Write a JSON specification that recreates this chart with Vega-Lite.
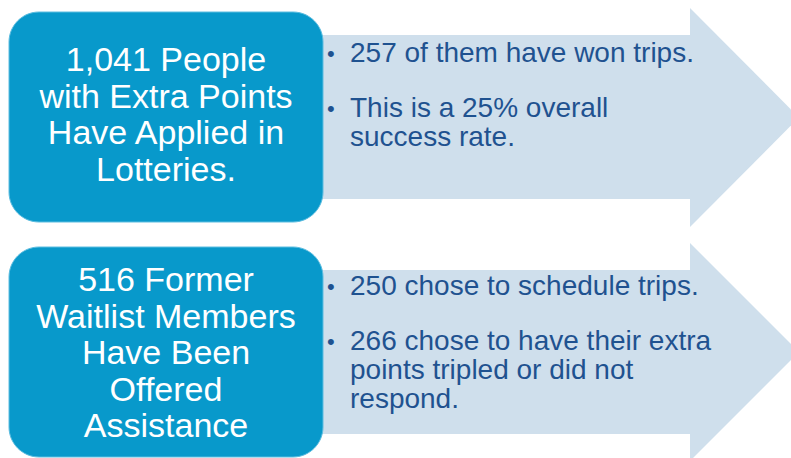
{
  "$schema": "https://vega.github.io/schema/vega-lite/v6.json",
  "width": 791,
  "height": 458,
  "autosize": {"type": "none"},
  "padding": 0,
  "background": "white",
  "config": {"view": {"stroke": null}},
  "datasets": {
    "shafts": [
      {"arrow": "top", "x1": 322, "x2": 694, "y1": 35, "y2": 199},
      {"arrow": "bottom", "x1": 322, "x2": 694, "y1": 270, "y2": 434}
    ],
    "heads": [
      {"arrow": "top", "x": 690, "ylo": 8, "yhi": 227},
      {"arrow": "top", "x": 799, "ylo": 117.5, "yhi": 117.5},
      {"arrow": "bottom", "x": 690, "ylo": 243, "yhi": 461},
      {"arrow": "bottom", "x": 799, "ylo": 352, "yhi": 352}
    ],
    "boxes": [
      {"box": "top", "x1": 9, "x2": 323, "y1": 12, "y2": 222},
      {"box": "bottom", "x1": 9, "x2": 323, "y1": 247, "y2": 457}
    ],
    "boxText": [
      {"x": 166, "y": 61, "label": "1,041 People\nwith Extra Points\nHave Applied in\nLotteries."},
      {"x": 166, "y": 281, "label": "516 Former\nWaitlist Members\nHave Been\nOffered\nAssistance"}
    ],
    "bullets": [
      {"x": 350, "y": 62, "label": "257 of them have won trips."},
      {"x": 350, "y": 116.5, "label": "This is a 25% overall\nsuccess rate."},
      {"x": 350, "y": 295, "label": "250 chose to schedule trips."},
      {"x": 350, "y": 350, "label": "266 chose to have their extra\npoints tripled or did not\nrespond."}
    ]
  },
  "layer": [
    {
      "data": {"name": "shafts"},
      "mark": {"type": "rect", "color": "#CFDFEC", "clip": true},
      "encoding": {
        "x": {"field": "x1", "type": "quantitative", "scale": {"domain": [0, 791]}, "axis": null},
        "x2": {"field": "x2"},
        "y": {"field": "y1", "type": "quantitative", "scale": {"domain": [0, 458], "reverse": true}, "axis": null},
        "y2": {"field": "y2"}
      }
    },
    {
      "data": {"name": "heads"},
      "mark": {"type": "area", "color": "#CFDFEC", "orient": "vertical", "clip": true},
      "encoding": {
        "x": {"field": "x", "type": "quantitative", "scale": {"domain": [0, 791]}, "axis": null},
        "y": {"field": "ylo", "type": "quantitative", "scale": {"domain": [0, 458], "reverse": true}, "axis": null},
        "y2": {"field": "yhi"},
        "detail": {"field": "arrow"}
      }
    },
    {
      "data": {"name": "boxes"},
      "mark": {"type": "rect", "color": "#0899CB", "cornerRadius": 30, "stroke": "#5CBDE0", "strokeWidth": 1},
      "encoding": {
        "x": {"field": "x1", "type": "quantitative", "scale": {"domain": [0, 791]}, "axis": null},
        "x2": {"field": "x2"},
        "y": {"field": "y1", "type": "quantitative", "scale": {"domain": [0, 458], "reverse": true}, "axis": null},
        "y2": {"field": "y2"}
      }
    },
    {
      "data": {"name": "boxText"},
      "mark": {"type": "text", "color": "white", "font": "Liberation Sans", "fontSize": 34, "lineHeight": 36.5, "align": "center", "baseline": "middle", "lineBreak": "\n"},
      "encoding": {
        "x": {"field": "x", "type": "quantitative", "scale": {"domain": [0, 791]}, "axis": null},
        "y": {"field": "y", "type": "quantitative", "scale": {"domain": [0, 458], "reverse": true}, "axis": null},
        "text": {"field": "label"}
      }
    },
    {
      "data": {"name": "bullets"},
      "mark": {"type": "text", "color": "#1F5290", "font": "Liberation Sans", "fontSize": 28, "lineHeight": 29, "align": "left", "baseline": "alphabetic", "lineBreak": "\n"},
      "encoding": {
        "x": {"field": "x", "type": "quantitative", "scale": {"domain": [0, 791]}, "axis": null},
        "y": {"field": "y", "type": "quantitative", "scale": {"domain": [0, 458], "reverse": true}, "axis": null},
        "text": {"field": "label"}
      }
    },
    {
      "data": {"name": "bullets"},
      "mark": {"type": "text", "color": "#1F5290", "font": "Liberation Sans", "fontSize": 22, "align": "left", "baseline": "alphabetic", "dx": -23, "dy": -1},
      "encoding": {
        "x": {"field": "x", "type": "quantitative", "scale": {"domain": [0, 791]}, "axis": null},
        "y": {"field": "y", "type": "quantitative", "scale": {"domain": [0, 458], "reverse": true}, "axis": null},
        "text": {"value": "•"}
      }
    }
  ]
}
